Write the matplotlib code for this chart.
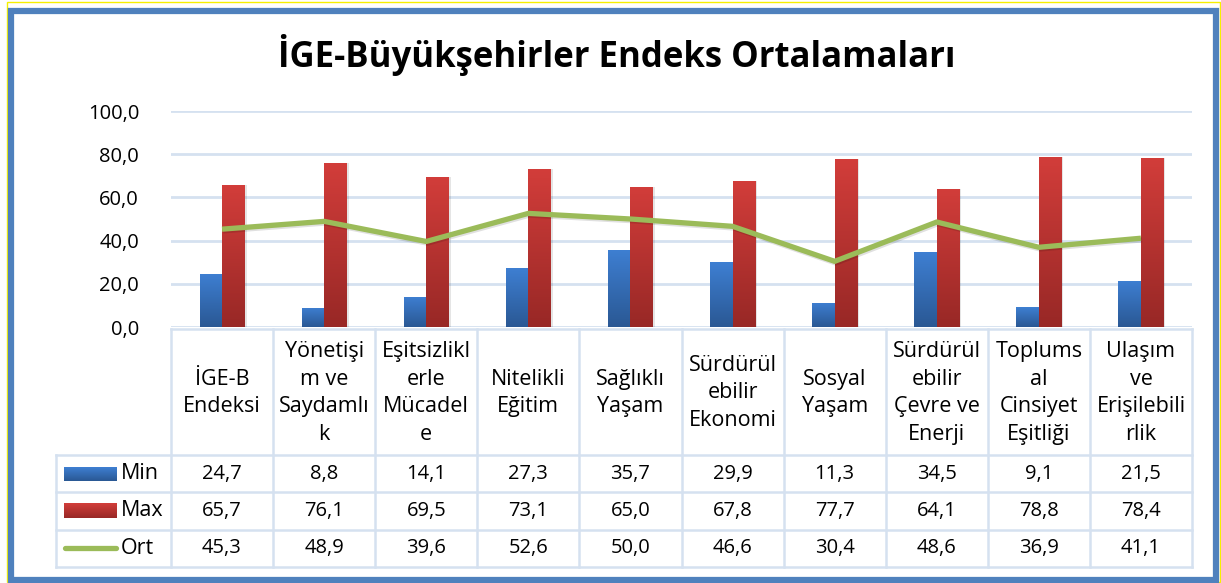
import matplotlib
matplotlib.use("Agg")
import matplotlib.pyplot as plt
import matplotlib.patheffects as pe
from matplotlib.patches import Rectangle
from matplotlib.colors import LinearSegmentedColormap
import numpy as np

plt.rcParams['font.family'] = ['Open Sans', 'DejaVu Sans']

# --- veriler ---
kategoriler = ["İGE-B\nEndeksi", "Yönetişi\nm ve\nSaydamlı\nk", "Eşitsizlikl\nerle\nMücadel\ne",
               "Nitelikli\nEğitim", "Sağlıklı\nYaşam", "Sürdürül\nebilir\nEkonomi",
               "Sosyal\nYaşam", "Sürdürül\nebilir\nÇevre ve\nEnerji",
               "Toplums\nal\nCinsiyet\nEşitliği", "Ulaşım\nve\nErişilebili\nrlik"]
min_vals = [24.7, 8.8, 14.1, 27.3, 35.7, 29.9, 11.3, 34.5, 9.1, 21.5]
max_vals = [65.7, 76.1, 69.5, 73.1, 65.0, 67.8, 77.7, 64.1, 78.8, 78.4]
ort_vals = [45.3, 48.9, 39.6, 52.6, 50.0, 46.6, 30.4, 48.6, 36.9, 41.1]
seriler = ["Min", "Max", "Ort"]
y_ticks = [0, 20, 40, 60, 80, 100]

W, H = 1221, 583
GRID = '#D5E1F0'
FS_NUM = 14.5
FS_TXT = 15.5
fig = plt.figure(figsize=(W / 100, H / 100), dpi=100)

# pixel-koordinatli arka plan eksen (cerceve + tablo)
bg = fig.add_axes([0, 0, 1, 1])
bg.set_xlim(0, W); bg.set_ylim(H, 0); bg.axis('off')
bg.add_patch(Rectangle((7, 2), W - 8, H - 3, fill=False, edgecolor='#F5F000', linewidth=1))
bg.add_patch(Rectangle((10.5, 10.5), 1205, 569, fill=False, edgecolor='#4F81BD', linewidth=4.5))

# grafik alani
x0, x1, ytop, ybot = 171, 1192, 111, 327
ax = fig.add_axes([x0 / W, 1 - ybot / H, (x1 - x0) / W, (ybot - ytop) / H])
n = len(kategoriler)
x = np.arange(n)
for s in ax.spines.values():
    s.set_visible(False)
ax.set_xticks([])
ax.set_yticks(y_ticks)
ax.set_yticklabels([f"{v:.1f}".replace('.', ',') for v in y_ticks], fontsize=14.5)
ax.tick_params(axis='y', length=0, pad=23)
ax.yaxis.grid(True, color=GRID, linewidth=2)
ax.set_axisbelow(True)


def gradient_bars(xs, vals, top, bottom):
    cmap = LinearSegmentedColormap.from_list('g', [bottom, top])
    grad = np.linspace(0, 1, 100).reshape(-1, 1)
    bars = ax.bar(xs, vals, width=0.22, color='none', edgecolor='none', zorder=2)
    for b in bars:
        sh = Rectangle((b.get_x() + 0.02, 0), b.get_width(), b.get_height(),
                       facecolor='#000000', alpha=0.10, edgecolor='none', zorder=1.5)
        ax.add_patch(sh)
        im = ax.imshow(grad, cmap=cmap, origin='lower', aspect='auto', zorder=2,
                       extent=[b.get_x(), b.get_x() + b.get_width(), 0, b.get_height()])
        im.set_clip_path(b)
    return bars


gradient_bars(x - 0.11, min_vals, '#3E7FD2', '#2A5894')
gradient_bars(x + 0.11, max_vals, '#D23D3A', '#982826')
ax.plot(x, ort_vals, color='#9BBB59', linewidth=3.8, zorder=3, solid_capstyle='butt',
        path_effects=[pe.SimpleLineShadow(offset=(0.8, -1.2), alpha=0.12), pe.Normal()])
ax.set_xlim(-0.5, n - 0.5)
ax.set_ylim(0, 100)

# baslik
fig.text(617 / W, 1 - 55 / H, "İGE-Büyükşehirler Endeks Ortalamaları",
         fontsize=25, fontweight='bold', ha='center', va='center')

# veri tablosu
cw = (x1 - x0) / n
col_edges = [x0 + i * cw for i in range(n + 1)]
hdr_top, hdr_bot = 329, 455
row_h = 37.3
rows_bot = hdr_bot + row_h * 3
leg_left = 56
lw = 1.8
bg.plot([x0, x1], [hdr_top, hdr_top], color=GRID, lw=lw)
for i in range(4):
    yy = hdr_bot + i * row_h
    bg.plot([leg_left, x1], [yy, yy], color=GRID, lw=lw)
for ce in col_edges:
    bg.plot([ce, ce], [hdr_top, rows_bot], color=GRID, lw=lw)
bg.plot([leg_left, leg_left], [hdr_bot, rows_bot], color=GRID, lw=lw)

for i, lab in enumerate(kategoriler):
    cx = (col_edges[i] + col_edges[i + 1]) / 2
    bg.text(cx, (hdr_top + hdr_bot) / 2 + 1, lab, fontsize=FS_TXT, ha='center', va='center',
            linespacing=1.42)
    for r, vals in enumerate([min_vals, max_vals, ort_vals]):
        yy = hdr_bot + (r + 0.5) * row_h
        bg.text(cx, yy, f"{vals[i]:.1f}".replace('.', ','), fontsize=FS_NUM,
                ha='center', va='center')

# tablo lejant anahtarlari
leg_cols = [('#3E7FD2', '#2A5894'), ('#D23D3A', '#982826')]
for r, name in enumerate(seriler):
    yy = hdr_bot + (r + 0.5) * row_h
    if r < 2:
        top, bottom = leg_cols[r]
        cmap = LinearSegmentedColormap.from_list('k', [top, bottom])
        bg.imshow(np.linspace(0, 1, 50).reshape(-1, 1), cmap=cmap, aspect='auto',
                  extent=[64, 117, yy + 7, yy - 7], zorder=3)
    else:
        bg.plot([65, 116], [yy, yy], color='#9BBB59', lw=3.8, solid_capstyle='round')
    bg.text(121, yy, name, fontsize=FS_TXT, ha='left', va='center')
bg.set_xlim(0, W); bg.set_ylim(H, 0)

fig.savefig("out.png", dpi=100)
